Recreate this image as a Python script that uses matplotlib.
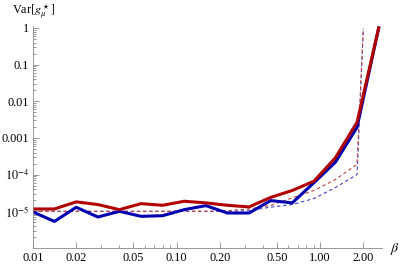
import numpy as np
import matplotlib
matplotlib.use("Agg")
import matplotlib.pyplot as plt

plt.rcParams['font.family'] = ['Liberation Serif', 'DejaVu Serif']
plt.rcParams['mathtext.fontset'] = 'stix'

# beta grid (steps of sqrt(2) from 0.01)
beta = [0.01, 0.0141, 0.02, 0.0283, 0.04, 0.0566, 0.08, 0.113, 0.16,
        0.226, 0.32, 0.453, 0.64, 0.905, 1.28, 1.81, 2.56]

# thick lines
var_red = [1.16e-5, 1.16e-5, 1.81e-5, 1.53e-5, 1.11e-5, 1.62e-5, 1.46e-5, 1.88e-5, 1.70e-5,
           1.46e-5, 1.32e-5, 2.4e-5, 3.7e-5, 6.6e-5, 2.9e-4, 2.7e-3, 1.0]
var_blue = [9.6e-6, 5.3e-6, 1.29e-5, 7.0e-6, 1.0e-5, 7.3e-6, 7.6e-6, 1.11e-5, 1.43e-5,
            9.0e-6, 9.0e-6, 1.96e-5, 1.70e-5, 6.0e-5, 2.2e-4, 1.96e-3, 1.0]

# dashed lines (prediction), end with a jump near beta = 2
beta_dash = beta[:16] + [2.0]
dash_red = [1e-5] * 9 + [1.04e-5, 1.16e-5, 1.45e-5, 2.33e-5, 3.7e-5, 7.4e-5, 1.9e-4, 0.95]
dash_blue = [1e-5] * 10 + [1.04e-5, 1.3e-5, 1.53e-5, 2.23e-5, 4.46e-5, 1.01e-4, 0.95]

xticks = [0.01, 0.02, 0.05, 0.1, 0.2, 0.5, 1, 2]
xticklabels = ["0.01", "0.02", "0.05", "0.10", "0.20", "0.50", "1.00", "2.00"]
xminor = [0.03, 0.04, 0.06, 0.07, 0.08, 0.09, 0.3, 0.4, 0.6, 0.7, 0.8, 0.9]
yticks = [1e-5, 1e-4, 1e-3, 1e-2, 1e-1, 1]
yticklabels = [r"$10^{-5}$", r"$10^{-4}$", "0.001", "0.01", "0.1", "1"]

fig = plt.figure(figsize=(4.02, 2.65), dpi=100)
ax = fig.add_axes([33 / 402, 17 / 265, 349 / 402, 222 / 265])

ax.plot(beta_dash, dash_blue, color="#4040c8", lw=0.8, dashes=(3, 2.5))
ax.plot(beta_dash, dash_red, color="#c04040", lw=0.8, dashes=(3, 2.5))
ax.plot(beta, var_blue, color="#0000b0", lw=2.2)
ax.plot(beta, var_red, color="#b00000", lw=2.2)

ax.set_xscale("log")
ax.set_yscale("log")
ax.set_xlim(0.01, 2.7)
ax.set_ylim(1e-6, 1.13)

ax.set_xticks(xticks)
ax.set_xticklabels(xticklabels)
ax.set_xticks(xminor, minor=True)
ax.set_xticklabels([], minor=True)
ax.set_yticks(yticks)
ax.set_yticklabels(yticklabels)
ax.yaxis.set_minor_locator(matplotlib.ticker.LogLocator(base=10, subs=np.arange(2, 10), numticks=20))
ax.yaxis.set_minor_formatter(matplotlib.ticker.NullFormatter())

ax.tick_params(which="both", direction="in", color="#888888", labelsize=8.8, width=0.6)
ax.tick_params(which="major", length=4, pad=3)
ax.tick_params(which="minor", length=2)

for s in ["top", "right"]:
    ax.spines[s].set_visible(False)
for s in ["left", "bottom"]:
    ax.spines[s].set_color("#888888")
    ax.spines[s].set_linewidth(0.6)

fig.text(34 / 402, 1 - 12 / 265, r"Var$[g_\mu^\star]$", ha="center", va="center", fontsize=8.8)
fig.text(395 / 402, 1 - 249 / 265, r"$\beta$", ha="center", va="center", fontsize=10)

fig.savefig("out.png", dpi=100)
